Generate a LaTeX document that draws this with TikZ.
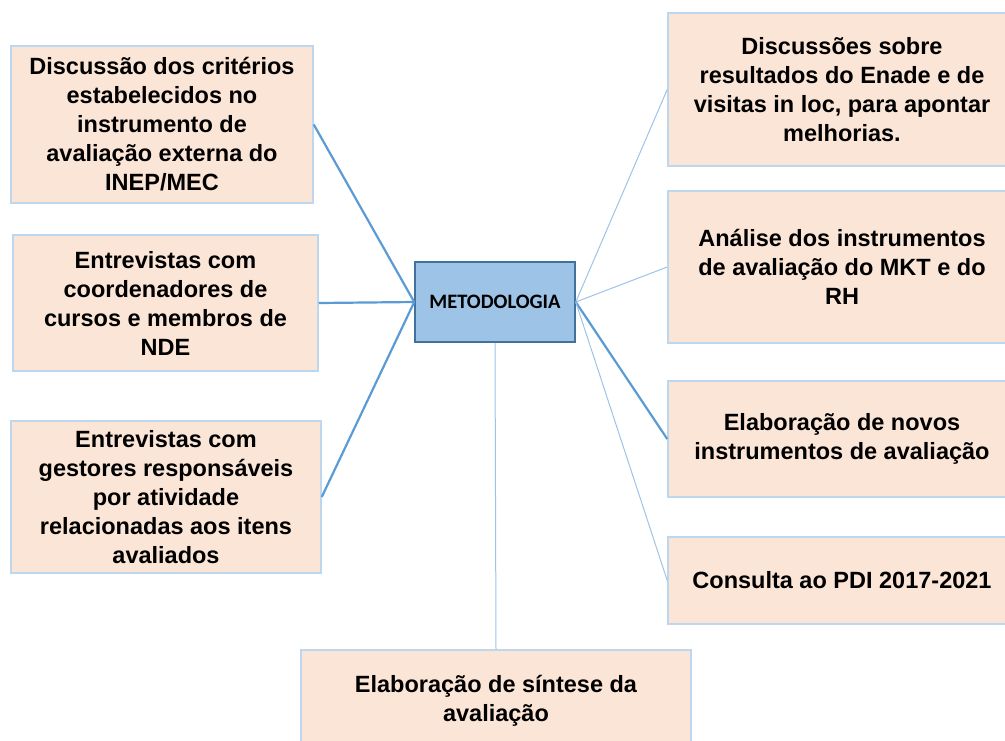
\documentclass[tikz,border=0pt]{standalone}
\usepackage{fontspec}
\setmainfont{Liberation Sans}
\newfontfamily\hubfont{Carlito}
\usetikzlibrary{positioning}

\definecolor{boxfill}{HTML}{FBE5D6}
\definecolor{boxline}{HTML}{BDD7EE}
\definecolor{hubfill}{HTML}{9DC3E6}
\definecolor{hubline}{HTML}{41719C}
\definecolor{linkdark}{HTML}{5B9BD5}
\definecolor{linklight}{HTML}{9DC3E6}

\begin{document}
\begin{tikzpicture}[
  x=1pt, y=-1pt,
  topic/.style = {rectangle, draw=boxline, fill=boxfill, line width=1.5pt,
                  align=center, inner sep=0pt,
                  font=\bfseries\fontsize{23.5}{29}\selectfont},
  hub/.style   = {rectangle, draw=hubline, fill=hubfill, line width=1.5pt,
                  minimum width=160pt, minimum height=80pt,
                  font=\hubfont\bfseries\fontsize{20.5}{24}\selectfont},
  strong/.style = {draw=linkdark, line width=2.2pt},
  faint/.style  = {draw=linklight, line width=1pt}
]
\useasboundingbox (0,0) rectangle (1005,740);

\node[hub] (metodo) at (495,302) {METODOLOGIA};

% left side
\node[topic, minimum width=302pt, minimum height=157pt] (criterios) at (162,124.5)
  {Discussão dos critérios\\estabelecidos no\\instrumento de\\avaliação externa do\\INEP/MEC};
\node[topic, minimum width=305pt, minimum height=136pt] (coord) at (165.5,303)
  {Entrevistas com\\coordenadores de\\cursos e membros de\\NDE};
\node[topic, minimum width=310pt, minimum height=152pt] (gestores) at (166,497)
  {Entrevistas com\\gestores responsáveis\\por atividade\\relacionadas aos itens\\avaliados};

% right side
\node[topic, minimum width=348pt, minimum height=153pt] (enade) at (842,89.5)
  {Discussões sobre\\resultados do Enade e de\\visitas in loc, para apontar\\melhorias.};
\node[topic, minimum width=348pt, minimum height=152pt] (mkt) at (842,267)
  {Análise dos instrumentos\\de avaliação do MKT e do\\RH};
\node[topic, minimum width=348pt, minimum height=116pt] (novos) at (842,439)
  {Elaboração de novos\\instrumentos de avaliação};
\node[topic, minimum width=348pt, minimum height=87pt] (pdi) at (842,580.5)
  {Consulta ao PDI 2017-2021};

% bottom
\node[topic, minimum width=390pt, minimum height=102pt] (sintese) at (496,701)
  {Elaboração de síntese da\\avaliação};

\draw[strong] (criterios.east) -- (metodo.west);
\draw[strong] (coord.east)     -- (metodo.west);
\draw[strong] (gestores.east)  -- (metodo.west);
\draw[faint]  (metodo.east)    -- (enade.west);
\draw[faint]  (metodo.east)    -- (mkt.west);
\draw[strong] (metodo.east)    -- (novos.west);
\draw[faint]  (metodo.east)    -- (pdi.west);
\draw[faint]  (metodo.south)   -- (sintese.north);
\end{tikzpicture}
\end{document}
